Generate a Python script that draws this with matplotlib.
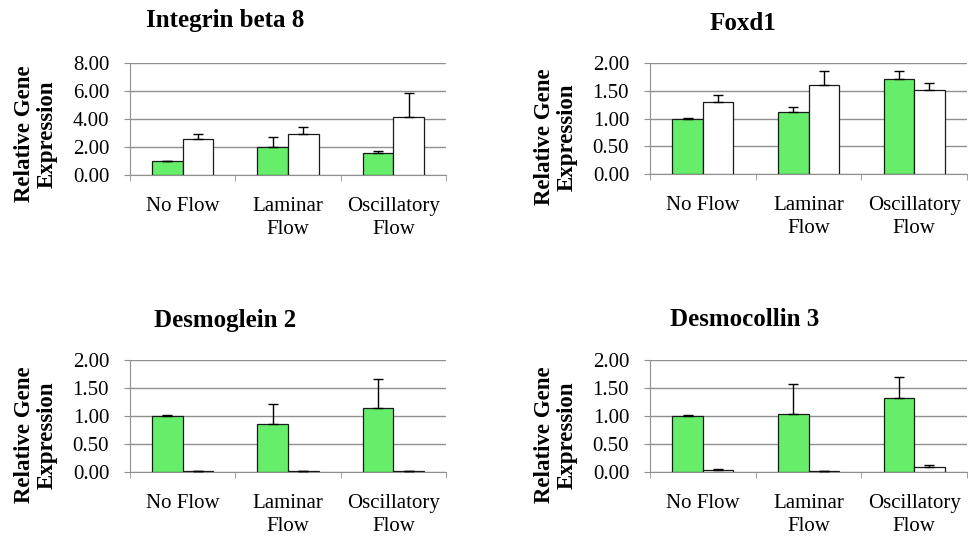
import matplotlib.pyplot as plt
import numpy as np

plt.rcParams['font.family'] = ['Liberation Serif', 'DejaVu Serif']

categories = ["No Flow", "Laminar\nFlow", "Oscillatory\nFlow"]
titles = ["Integrin beta 8", "Foxd1", "Desmoglein 2", "Desmocollin 3"]

# green = first condition, white = second condition
green_vals = [[1.00, 1.98, 1.58], [1.00, 1.12, 1.72], [1.00, 0.85, 1.15], [1.00, 1.03, 1.33]]
green_err = [[0.03, 0.70, 0.12], [0.01, 0.08, 0.14], [0.01, 0.36, 0.51], [0.01, 0.54, 0.36]]
white_vals = [[2.55, 2.92, 4.15], [1.30, 1.60, 1.51], [0.02, 0.02, 0.02], [0.03, 0.02, 0.09]]
white_err = [[0.37, 0.50, 1.68], [0.12, 0.26, 0.13], [0.00, 0.00, 0.00], [0.02, 0.00, 0.03]]
y_max = [8, 2, 2, 2]
y_step = [2, 0.5, 0.5, 0.5]

W, H = 969, 539
fig = plt.figure(figsize=(W / 100, H / 100), dpi=100)

# axes boxes in pixels: left, top, right, bottom
boxes = [(130, 63, 446, 175), (650, 63, 967, 174), (130, 360, 446, 472), (650, 360, 967, 472)]
title_pos = [(225, 21), (743, 23), (225, 320), (745, 320)]
ylab_pos = [(36, 134), (556, 137), (36, 435), (556, 435)]

green = "#66ee6a"
grid_c = "#8f8f8f"
x = np.arange(3)
bw = 0.29

for i in range(4):
    l, t, r, b = boxes[i]
    ax = fig.add_axes([l / W, 1 - b / H, (r - l) / W, (b - t) / H])
    ax.bar(x - bw / 2, green_vals[i], bw, color=green, edgecolor="#1a1a1a", linewidth=0.9, zorder=3,
           yerr=[[0, 0, 0], green_err[i]], error_kw=dict(ecolor="black", elinewidth=1, capsize=3.6, capthick=1))
    ax.bar(x + bw / 2, white_vals[i], bw, color="white", edgecolor="#1a1a1a", linewidth=0.9, zorder=3,
           yerr=[[0, 0, 0], white_err[i]], error_kw=dict(ecolor="black", elinewidth=1, capsize=3.6, capthick=1))
    ax.set_xlim(-0.5, 2.5)
    ax.set_ylim(0, y_max[i])
    ax.set_yticks(np.arange(0, y_max[i] + 0.001, y_step[i]))
    ax.set_yticklabels(["%.2f" % v for v in np.arange(0, y_max[i] + 0.001, y_step[i])], fontsize=15)
    ax.yaxis.grid(True, color=grid_c, linewidth=1, zorder=0)
    ax.set_axisbelow(True)
    ax.set_xticks(x)
    ax.set_xticklabels(categories, fontsize=15, linespacing=1.25)
    ax.set_xticks([-0.5, 0.5, 1.5, 2.5], minor=True)
    ax.tick_params(axis="x", which="major", length=0, pad=16)
    ax.tick_params(axis="x", which="minor", length=4, color=grid_c, direction="out")
    ax.tick_params(axis="y", length=4, color=grid_c, direction="out", pad=11)
    for s in ["top", "right"]:
        ax.spines[s].set_visible(False)
    ax.spines["left"].set_color(grid_c)
    ax.spines["bottom"].set_color(grid_c)
    ax.set_facecolor("white")

    tx, ty = title_pos[i]
    fig.text(tx / W, 1 - ty / H, titles[i], fontsize=18, fontweight="bold", ha="center", va="center")
    lx, ly = ylab_pos[i]
    fig.text(lx / W, 1 - ly / H, "Relative Gene\nExpression", fontsize=16.5, fontweight="bold",
             rotation=90, ha="center", va="center", multialignment="center", linespacing=1.1)

fig.savefig("out.png", dpi=100, facecolor="white")
